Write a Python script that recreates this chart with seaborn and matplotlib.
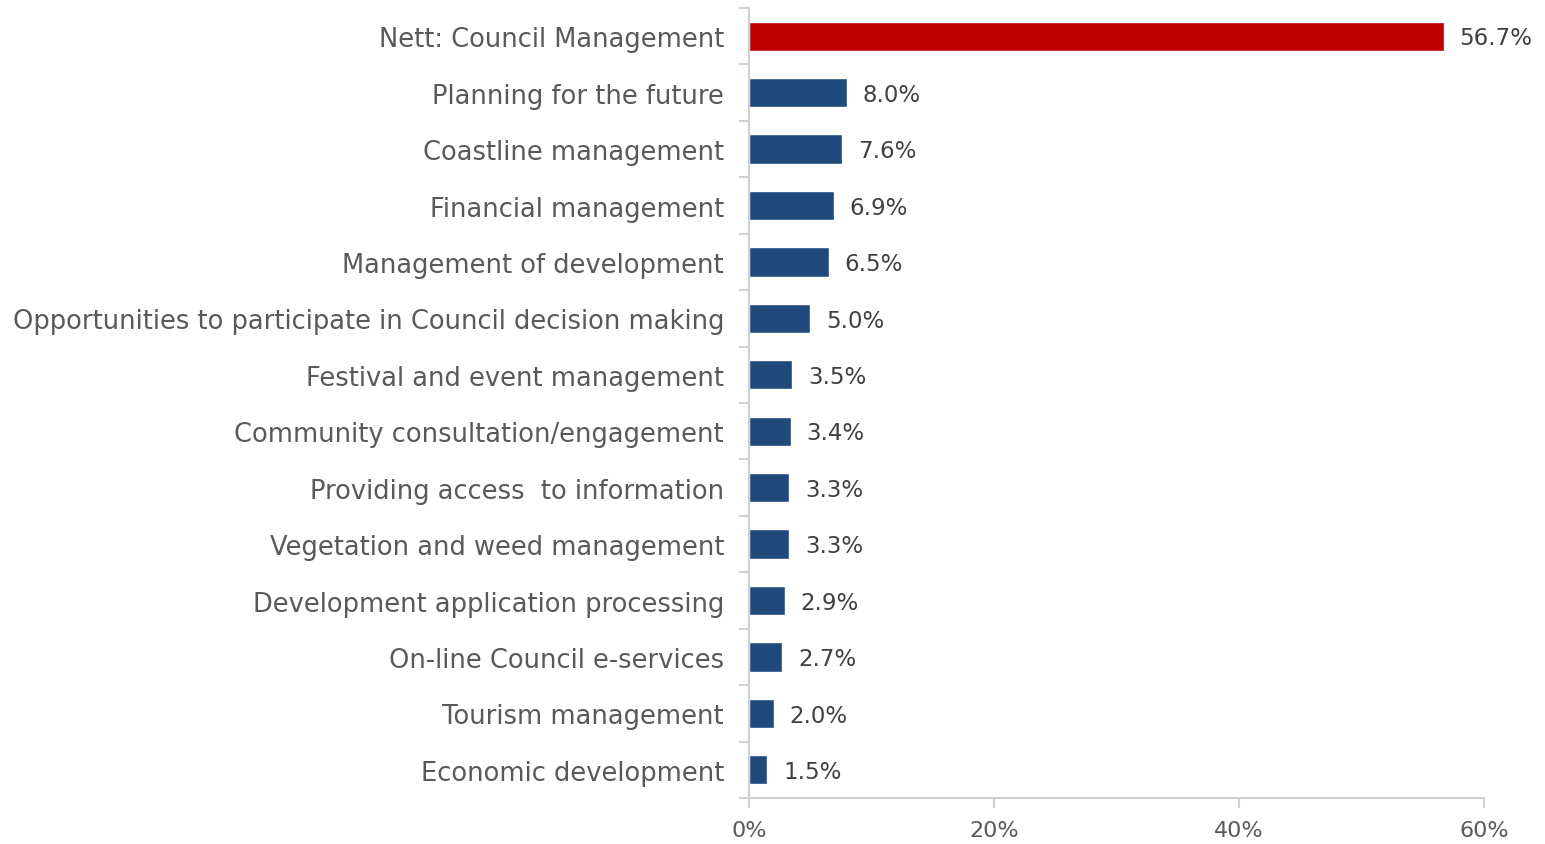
import matplotlib
matplotlib.use("Agg")
import matplotlib.pyplot as plt
import matplotlib.ticker as mticker
import seaborn as sns
import pandas as pd

categories = [
    "Nett: Council Management",
    "Planning for the future",
    "Coastline management",
    "Financial management",
    "Management of development",
    "Opportunities to participate in Council decision making",
    "Festival and event management",
    "Community consultation/engagement",
    "Providing access  to information",
    "Vegetation and weed management",
    "Development application processing",
    "On-line Council e-services",
    "Tourism management",
    "Economic development",
]
values = [56.7, 8.0, 7.6, 6.9, 6.5, 5.0, 3.5, 3.4, 3.3, 3.3, 2.9, 2.7, 2.0, 1.5]
groups = ["nett"] + ["item"] * (len(categories) - 1)
x_ticks = [0, 20, 40, 60]

palette = {"nett": "#C00000", "item": "#214A7C"}
text_color = "#595959"
axis_color = "#D0D0D0"

sns.set_theme(style="white")
plt.rcParams["font.family"] = ["DejaVu Sans"]

df = pd.DataFrame({"category": categories, "value": values, "group": groups})

fig = plt.figure(figsize=(15.45, 8.45), dpi=100)
ax = fig.add_axes([0.4848, 0.0544, 0.9605 - 0.4848, 0.9893 - 0.0544])

sns.barplot(data=df, x="value", y="category", hue="group", palette=palette,
            order=categories, dodge=False, width=0.52, legend=False, ax=ax,
            saturation=1)

# value labels to the right of each bar
for i, v in enumerate(values):
    ax.text(v + 1.3, i + 0.03, f"{v:.1f}%", va="center", ha="left",
            fontsize=16.5, color="#404040")

ax.set_xlim(0, 60)
ax.set_ylim(len(categories) - 0.5, -0.5)
ax.set_xticks(x_ticks)
ax.xaxis.set_major_formatter(mticker.FuncFormatter(lambda v, p: f"{v:.0f}%"))
ax.set_xlabel("")
ax.set_ylabel("")

for side in ["top", "right"]:
    ax.spines[side].set_visible(False)
for side in ["left", "bottom"]:
    ax.spines[side].set_color(axis_color)
    ax.spines[side].set_linewidth(1.5)

ax.tick_params(axis="x", which="major", bottom=True, length=7, width=1.5,
               color=axis_color, labelsize=16, labelcolor=text_color, pad=9)
ax.tick_params(axis="y", which="major", left=True, length=0, labelsize=18.5,
               labelcolor=text_color, pad=18)
ax.set_yticks([i + 0.5 for i in range(-1, len(categories))], minor=True)
ax.tick_params(axis="y", which="minor", left=True, length=7, width=1.5,
               color=axis_color)

fig.savefig("out.png", dpi=100)
